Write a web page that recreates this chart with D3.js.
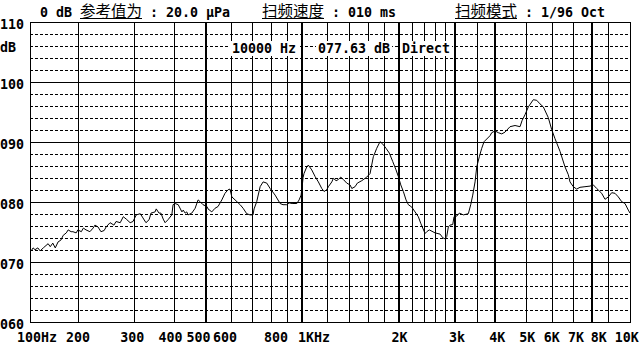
<!DOCTYPE html>
<html><head><meta charset="utf-8">
<script src="https://cdn.jsdelivr.net/npm/d3@7"></script>
<style>html,body{margin:0;padding:0;background:#fff;}svg{display:block}</style>
</head><body><svg id="c" width="639" height="346"></svg>
<script>
// ---------- data ----------
const freqs = [143,145,147,150,152.5,156,161.5,164,167,170,
173.5,177,180,184,186.5,190.5,193,197.5,200,205,
208,212,218,223,226,231,236,241.5,245,252,
259,263,271,277,283,291,297,304,313,319,
326,333.5,338,348,351,358,363,369,374,382,
392.5,396,402,411,422,426,432,437,441,453,
464,474,481,491,505,509,523,535,547,562,
575,588,596,604,618,641,655,672,688,703,
708.5,722,740,756,776,795,824,854,872,896,
911,931,963,979,993,1002,1007,1014,1034,1046,
1072,1098,1124,1152,1171,1194,1208,1238,1252,1277,
1298,1320,1345,1378,1411,1429,1463,1487,1535,1591,
1629,1668,1709,1750,1785,1827,1871,1917,1963,1996,
2031,2069,2109,2145,2198,2250,2304,2344,2418,2447,
2493,2598,2693,2745,2791,2825,2858,2893,2950,2977,
3035,3093,3183,3299,3356,3405,3462,3504,3570,3632,
3693,3855,3902,3996,4092,4193,4293,4450,4613,4781,
4850,4956,5075,5260,5390,5519,5652,5858,6003,6146,
6371,6604,6762,6845,7009,7182,7354,7622,7902,8092,
8292,8594,8801,9012,9234,9456,9682,9922,10159,10403,
10530];
const levels = [71.8,72.3,72.0,72.3,71.8,72.3,73.0,72.5,73.1,72.3,
73.3,73.6,74.4,74.8,75.3,75.0,75.0,74.8,75.3,75.0,
75.6,75.3,75.0,75.6,76.1,75.8,75.0,75.2,75.8,76.5,
76.1,76.7,76.5,77.5,77.1,76.5,76.7,77.8,78.0,77.3,
76.5,77.0,78.1,78.3,78.8,78.1,78.1,77.1,76.5,77.0,
77.8,79.5,79.7,79.5,78.3,78.6,78.1,78.3,77.8,78.1,
78.9,80.3,80.0,79.5,79.2,78.8,78.3,78.9,79.2,80.3,
81.4,82.0,82.1,80.8,80.3,79.5,78.9,78.0,77.8,77.8,
78.8,80.0,82.5,83.3,83.1,82.2,81.1,79.7,79.5,79.5,
79.8,79.7,79.7,80.3,81.1,82.8,84.0,84.7,85.8,86.1,
85.3,84.2,83.3,82.2,81.7,82.0,82.5,83.3,83.9,83.5,
83.7,84.1,83.7,83.1,82.8,82.2,82.5,83.1,83.5,84.1,
84.7,87.5,88.9,90.0,89.6,88.9,88.1,86.7,85.3,84.2,
82.8,81.7,80.3,79.5,79.1,78.3,77.5,76.4,74.7,75.0,
75.3,74.8,74.6,74.0,73.8,74.2,75.8,76.1,76.2,77.5,
77.6,78.1,77.8,78.0,79.5,81.1,83.3,85.8,87.5,88.9,
90.0,91.0,91.5,91.8,91.5,91.3,91.6,92.5,92.7,92.5,
93.5,94.5,95.8,97.0,96.9,96.3,95.8,94.0,92.0,90.5,
88.4,85.8,84.5,83.3,82.5,82.1,82.4,82.5,82.6,82.8,
82.2,81.4,80.4,80.8,81.5,81.4,80.8,80.0,79.7,78.6,
78.1];
const yTicks = [110,100,90,80,70,60];
const yTickLabels = ["110","100","090","080","070","060"];
const yMinorTicks = d3.range(62,110,2).filter(v => v % 10 !== 0);
const gridFreqs = [200,300,400,500,600,700,800,900,1000,1200,1400,1600,1800,2000,2200,2400,2600,2800,3000,3500,4000,5000,6000,7000,8000,9000];
const majorGridFreqs = [500,1000,2000,3000,4000,8000];
const xTickFreqs = [100,200,300,400,500,600,800,1000,2000,3000,4000,5000,6000,7000,8000,10000];
const xTickLabels = ["100Hz","200","300","400","500","600","800","1KHz","2K","3k","4K","5K","6K","7K","8K","10K"];
const headerTexts = ["0 dB 参考值为 : 20.0 μPa","扫频速度 : 010 ms","扫频模式 : 1/96 Oct"];
const cursorTexts = ["10000 Hz","077.63 dB","Direct"];
const unitLabel = "dB";

// ---------- layout / style ----------
const W = 639, H = 346;
const L = 30, R = 630, T = 21.7, B = 321.7;
const mono = "'DejaVu Sans Mono', 'Liberation Mono', monospace";
const cjk = "'Noto Sans CJK SC', sans-serif";
const fs = 13.3;
const headerX = [40, 262, 455], headerY = 17;
const cursorX = [232, 318, 402], cursorY = 53;
// label nudges (printer places labels on its own character grid)
const xLabelShift = {"100Hz":-2,"200":0,"300":-2,"400":-4,"500":-7,"600":-6,"800":5,"1KHz":12,"2K":1,"3k":2,"4K":2,"5K":1,"6K":0,"7K":3,"8K":7,"10K":4};

const x = d3.scaleLog().domain([141.8, 10530]).range([L, R]);
const y = d3.scaleLinear().domain([60, 110]).range([B, T]);
const px = v => Math.round(v) + 0.5;

const svg = d3.select("#c");
svg.append("rect").attr("width", W).attr("height", H).attr("fill", "#fff");
const g = svg.append("g");

// minor dashed horizontals
g.selectAll("line.hmin").data(yMinorTicks).join("line")
  .attr("x1", L).attr("x2", R).attr("y1", d => px(y(d))).attr("y2", d => px(y(d)))
  .attr("stroke", "#000").attr("stroke-width", 1).attr("stroke-dasharray", "3,2")
  .attr("shape-rendering", "crispEdges");
// major horizontals
g.selectAll("line.hmaj").data(yTicks).join("line")
  .attr("x1", L).attr("x2", R).attr("y1", d => px(y(d))).attr("y2", d => px(y(d)))
  .attr("stroke", "#000").attr("stroke-width", 1).attr("shape-rendering", "crispEdges");
// verticals
g.selectAll("line.v").data(gridFreqs).join("line")
  .attr("x1", d => majorGridFreqs.includes(d) ? Math.round(x(d)) : px(x(d)))
  .attr("x2", d => majorGridFreqs.includes(d) ? Math.round(x(d)) : px(x(d)))
  .attr("y1", px(T)).attr("y2", px(B))
  .attr("stroke", "#000").attr("stroke-width", d => majorGridFreqs.includes(d) ? 2 : 1)
  .attr("shape-rendering", "crispEdges");
// frame
g.append("rect").attr("x", px(L)).attr("y", px(T)).attr("width", Math.round(R) - Math.round(L)).attr("height", Math.round(B) - Math.round(T))
  .attr("fill", "none").attr("stroke", "#000").attr("stroke-width", 1).attr("shape-rendering", "crispEdges");

// curve
const line = d3.line().x(d => x(d[0])).y(d => y(d[1]));
svg.append("path").datum(d3.zip(freqs, levels)).attr("d", line)
  .attr("fill", "none").attr("stroke", "#000").attr("stroke-width", 1);

// cursor readout (opaque text cells)
cursorTexts.forEach((s, i) => {
  const bg = svg.append("rect");
  const t = svg.append("text").attr("x", cursorX[i]).attr("y", cursorY)
    .attr("font-family", mono).attr("font-size", fs).attr("font-weight", "bold")
    .style("white-space", "pre").text(s);
  const w = t.node().getComputedTextLength();
  bg.attr("x", cursorX[i] - 2).attr("y", cursorY - 12).attr("width", w + 4).attr("height", 15).attr("fill", "#fff");
});

// y labels
svg.selectAll("text.yl").data(yTicks).join("text").attr("class", "yl")
  .attr("x", 0).attr("y", d => y(d) + 7)
  .attr("font-family", mono).attr("font-size", fs).attr("font-weight", "bold")
  .text((d, i) => yTickLabels[i]);
svg.append("text").attr("x", 0).attr("y", 52)
  .attr("font-family", mono).attr("font-size", fs).attr("font-weight", "bold").text(unitLabel);

// x labels
svg.selectAll("text.xl").data(xTickFreqs).join("text").attr("class", "xl")
  .attr("x", (d, i) => Math.max(x(d), L + 9) + xLabelShift[xTickLabels[i]])
  .attr("y", 342).attr("text-anchor", "middle")
  .attr("font-family", mono).attr("font-size", fs).attr("font-weight", "bold")
  .text((d, i) => xTickLabels[i]);

// header
headerTexts.forEach((s, i) => {
  const t = svg.append("text").attr("x", headerX[i]).attr("y", headerY).style("white-space", "pre");
  const runs = s.match(/[\u3000-\u9fff]+|[^\u3000-\u9fff]+/g);
  let acc = headerX[i];
  runs.forEach(r => {
    const isC = /[\u3000-\u9fff]/.test(r);
    const sp = t.append("tspan").text(r)
      .attr("font-family", isC ? cjk : mono).attr("font-size", isC ? 15.5 : fs)
      .attr("font-weight", isC ? "normal" : "bold");
    const w = sp.node().getComputedTextLength();
    if (isC) svg.append("line").attr("x1", acc).attr("x2", acc + w).attr("y1", headerY + 1.5).attr("y2", headerY + 1.5)
      .attr("stroke", "#000").attr("stroke-width", 1).attr("shape-rendering", "crispEdges");
    acc += w;
  });
});
</script></body></html>
